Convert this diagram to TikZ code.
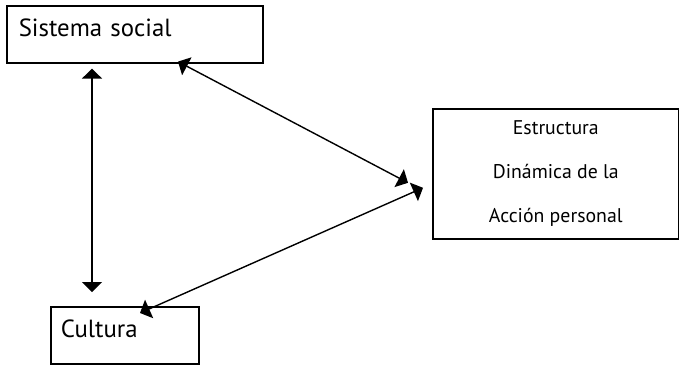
\documentclass[tikz,border=0pt]{standalone}
\usepackage{fontspec}
\setmainfont{PT Sans}
\usetikzlibrary{arrows.meta}

\begin{document}
\begin{tikzpicture}[x=1pt, y=-1pt,
		caja/.style={draw, line width=1.6pt, inner ysep=0pt, anchor=north west, align=left,
			text height=31pt, text depth=26pt, font=\fontsize{24.8}{30}\selectfont},
		flecha/.style={{Triangle[length=10pt,width=20pt]}-{Triangle[length=10pt,width=20pt]}, line width=1.4pt}]
		\useasboundingbox (0,0) rectangle (679,365);
		
		% Cajas
		\node[caja, text width=232pt, inner xsep=12pt] (ss) at (6,5) {Sistema social};
		\node[caja, text width=128pt, inner xsep=10pt] (cu) at (50,306) {Cultura};
		\node[draw, line width=1.6pt, minimum width=246pt, minimum height=130pt, anchor=north west,
			align=center, font=\fontsize{19.8}{44}\selectfont] (ep) at (432,108)
			{Estructura\\Dinámica de la\\Acción personal};
		
		% Flechas
		\draw[flecha] ([xshift=86pt, yshift=-5pt]ss.south west) -- ([xshift=42pt, yshift=14pt]cu.north west);
		\draw[flecha] ([xshift=172pt, yshift=2pt]ss.south west) -- ([xshift=-24pt, yshift=-9pt]ep.west);
		\draw[flecha] ([xshift=-9pt, yshift=-14pt]ep.west) -- ([xshift=90pt, yshift=-7pt]cu.north west);
	\end{tikzpicture}
\end{document}
